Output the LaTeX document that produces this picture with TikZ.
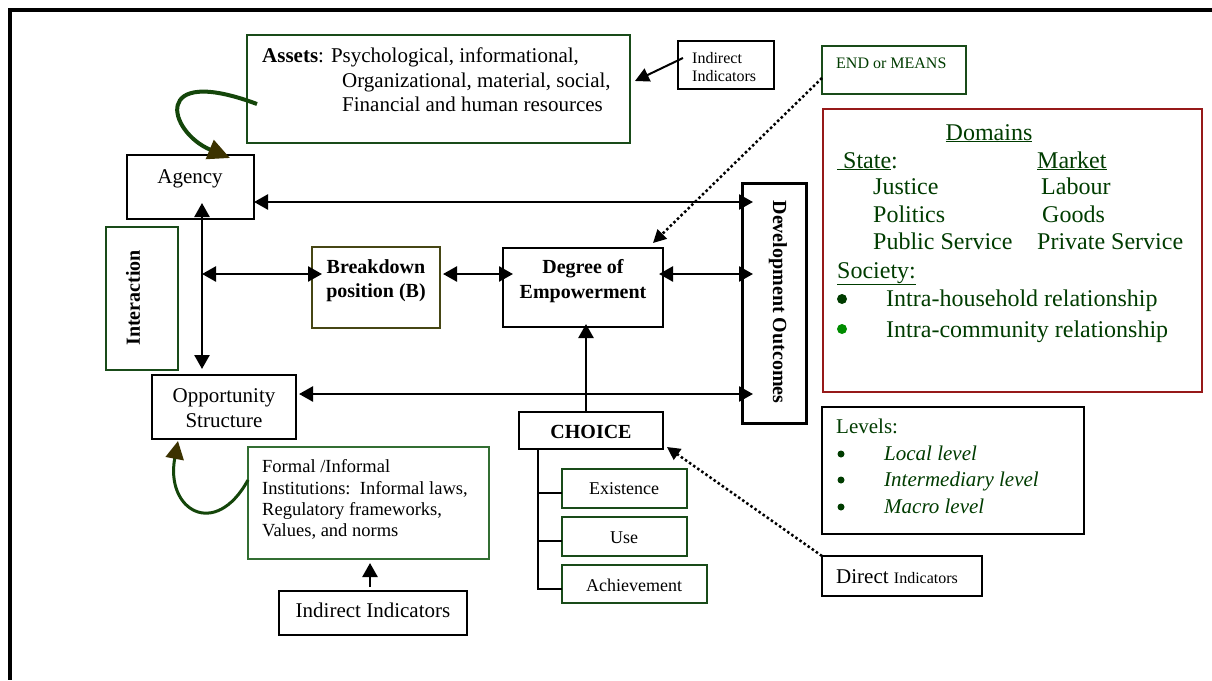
\documentclass[tikz,border=0pt]{standalone}
\usepackage{fontspec}
\setmainfont{Liberation Serif}
\usetikzlibrary{arrows.meta,calc}
\definecolor{bgreen}{RGB}{25,75,25}
\definecolor{mgreen}{RGB}{50,110,50}
\definecolor{olivebd}{RGB}{70,70,20}
\definecolor{dred}{RGB}{150,25,25}
\definecolor{tgreen}{RGB}{0,60,0}
\definecolor{bulgreen}{RGB}{0,140,0}
\definecolor{curvegreen}{RGB}{20,70,10}
\definecolor{tipolive}{RGB}{60,50,0}
\begin{document}
\begin{tikzpicture}[x=1pt,y=-1pt,
  bx/.style={draw=black, line width=2pt, inner sep=0pt, outer sep=0pt},
  t21/.style={font=\fontsize{21}{24}\selectfont, inner sep=0pt, anchor=base west},
  t24/.style={font=\fontsize{24}{27}\selectfont, inner sep=0pt, anchor=base west, text=tgreen},
  t16/.style={font=\fontsize{16}{18}\selectfont, inner sep=0pt, anchor=base west},
  t18/.style={font=\fontsize{18}{21}\selectfont, inner sep=0pt, anchor=base},
  tf/.style={font=\fontsize{18.5}{21}\selectfont, inner sep=0pt, anchor=base west},
  b20/.style={font=\bfseries\fontsize{20}{24}\selectfont, inner sep=0pt, anchor=base},
  lv/.style={font=\fontsize{21}{24}\selectfont, inner sep=0pt, anchor=base west, text=tgreen},
  bulbig/.style={circle, fill=tgreen, inner sep=0pt, minimum size=10pt},
  bulsmall/.style={circle, fill=tgreen, inner sep=0pt, minimum size=7pt},
  arr/.style={line width=2.5pt, -{Triangle[length=14pt,width=15pt]}},
  dbl/.style={line width=2.5pt, {Triangle[length=14pt,width=15pt]}-{Triangle[length=14pt,width=15pt]}},
  dot/.style={line width=2.5pt, dash pattern=on 2.5pt off 2.5pt, -{Triangle[length=13pt,width=13pt]}},
  tree/.style={line width=2pt}
]
\useasboundingbox (0,0) rectangle (1212,680);
\fill[white] (0,0) rectangle (1212,680);
% frame
\draw[line width=4pt] (1212,10) -- (10,10) -- (10,680);

% boxes
\node[bx, draw=bgreen, minimum width=383pt, minimum height=108pt] (assets) at (438.5,89) {};
\node[bx, minimum width=96pt, minimum height=48pt] (indtop) at (726,65) {};
\node[bx, draw=bgreen, minimum width=144pt, minimum height=48pt] (endm) at (894,70) {};
\node[bx, draw=dred, minimum width=379pt, minimum height=283pt] (domains) at (1012.5,250.5) {};
\node[bx, minimum width=127pt, minimum height=64pt] (agency) at (190.5,187) {};
\node[bx, draw=bgreen, minimum width=72pt, minimum height=143pt] (inter) at (142,298.5) {};
\node[bx, draw=olivebd, minimum width=128pt, minimum height=81pt] (breakdown) at (376,287.5) {};
\node[bx, minimum width=160pt, minimum height=79pt] (degree) at (583,287.5) {};
\node[bx, line width=3pt, minimum width=64pt, minimum height=240pt] (dev) at (774,303) {};
\node[bx, minimum width=144pt, minimum height=64pt] (opp) at (224,407) {};
\node[bx, minimum width=144pt, minimum height=37pt] (choice) at (591,430.5) {};
\node[bx, draw=bgreen, minimum width=125pt, minimum height=39pt] (exist) at (624.5,488.5) {};
\node[bx, draw=bgreen, minimum width=125pt, minimum height=39pt] (use) at (624.5,536.5) {};
\node[bx, draw=bgreen, minimum width=145pt, minimum height=38pt] (achieve) at (634.5,584) {};
\node[bx, draw=mgreen, minimum width=241pt, minimum height=112pt] (formal) at (368.5,503) {};
\node[bx, minimum width=188pt, minimum height=44pt] (indbot) at (373,613) {};
\node[bx, minimum width=262pt, minimum height=127pt] (levels) at (953,470.5) {};
\node[bx, minimum width=160pt, minimum height=40pt] (direct) at (902,576) {};

% texts
\node[t21] (assetsA) at (262,62) {\textbf{Assets}: Psychological, informational,};
\node[t21] (assetsB) at (342,87) {Organizational, material, social,};
\node[t21] (assetsC) at (342,111) {Financial and human resources};
\node[t16] (indtopA) at (692,63) {Indirect};
\node[t16] (indtopB) at (692,81) {Indicators};
\node[t16, text=tgreen] (endT) at (836,68) {END or MEANS};

\node[t24, anchor=base] (domT) at (989,140) {\underline{Domains}};
\node[t24] (stateT) at (837,168) {\underline{\hspace{6pt}State}:};
\node[t24] (marketT) at (1037,168) {\underline{Market}};
\node[t24] (justT) at (873,194) {Justice};
\node[t24] (labT) at (1041,194) {Labour};
\node[t24] (polT) at (873,222) {Politics};
\node[t24] (goodsT) at (1042,222) {Goods};
\node[t24] (pubT) at (873,249) {Public Service};
\node[t24] (privT) at (1037,249) {Private Service};
\node[t24] (socT) at (837,278) {\underline{Society:}};
\node[bulbig] (bulA) at (842,299) {};
\node[t24] (hhT) at (886,306) {Intra-household relationship};
\node[bulbig, fill=bulgreen] (bulB) at (842,329) {};
\node[t24] (commT) at (886,337) {Intra-community relationship};

\node[lv] (levT) at (836,433) {Levels:};
\node[bulsmall] (lb1) at (841,454) {};
\node[lv, font=\itshape\fontsize{21}{24}\selectfont] (lv1) at (884,460) {Local level};
\node[bulsmall] (lb2) at (841,480) {};
\node[lv, font=\itshape\fontsize{21}{24}\selectfont] (lv2) at (884,486) {Intermediary level};
\node[bulsmall] (lb3) at (841,507) {};
\node[lv, font=\itshape\fontsize{21}{24}\selectfont] (lv3) at (884,513) {Macro level};

\node[t21] (dirT) at (836,583) {Direct {\fontsize{16}{18}\selectfont Indicators}};

\node[t21, anchor=base] (agT) at (190,183) {Agency};
\node[t21, anchor=base] (oppA) at (224,402) {Opportunity};
\node[t21, anchor=base] (oppB) at (224,427) {Structure};
\node[b20, anchor=center, rotate=90] (interT) at (133,298) {Interaction};
\node[b20] (bdA) at (376,273) {Breakdown};
\node[b20] (bdB) at (376,297) {position (B)};
\node[b20] (degA) at (583,273) {Degree of};
\node[b20] (degB) at (583,298) {Empowerment};
\node[b20, anchor=center, rotate=-90] (devT) at (778,302) {Development Outcomes};
\node[b20] (choiceT) at (591,438) {CHOICE};
\node[t18] (existT) at (624,494) {Existence};
\node[t18] (useT) at (624,543) {Use};
\node[t18] (achT) at (634,591) {Achievement};
\node[tf] (fA) at (262,472) {Formal /Informal};
\node[tf] (fB) at (262,494) {Institutions:\ \ Informal laws,};
\node[tf] (fC) at (262,515) {Regulatory frameworks,};
\node[tf] (fD) at (262,536) {Values, and norms};
\node[t21, anchor=base] (ibT) at (373,617) {Indirect Indicators};

% connectors
\draw[line width=2pt, -{Triangle[length=14pt,width=14pt]}] ([xshift=5pt,yshift=7pt]indtop.west) -- ([xshift=5pt,yshift=8pt]assets.east);
\draw[line width=4pt, draw=curvegreen, -{Triangle[length=22pt,width=20pt,color=tipolive]}]
  ([xshift=10pt,yshift=-15pt]assets.west) .. controls (150,64) and (168,132) .. ([xshift=39.5pt,yshift=-3pt]agency.north);
\draw[line width=3pt, draw=curvegreen, -{Triangle[length=18pt,width=18pt,color=tipolive]}]
  ([yshift=23pt]formal.west) .. controls (215,540) and (165,510) .. ([xshift=-46pt,yshift=-2pt]opp.south);

\draw[dbl, shorten >=-11pt] ([yshift=-15pt]agency.east) -- ([yshift=-15pt]agency.east -| dev.west);
\draw[dbl, shorten <=-16pt, shorten >=6pt] ([xshift=11.5pt]agency.south) -- ([xshift=11.5pt]agency.south |- opp.north);
\coordinate (vj) at (202,274);
\draw[dbl, shorten >=-10pt] (vj) -- (vj -| breakdown.west);
\draw[dbl, shorten <=3pt, shorten >=-10pt] ([yshift=13.5pt]breakdown.east) -- ([yshift=13.5pt]breakdown.east -| degree.west);
\draw[dbl, shorten <=-4pt, shorten >=-11pt] ([yshift=13.5pt]degree.east) -- ([yshift=13.5pt]degree.east -| dev.west);
\draw[dbl, shorten <=3pt, shorten >=-11pt] ([yshift=13pt]opp.east) -- ([yshift=13pt]opp.east -| dev.west);
\draw[arr, shorten >=-3pt] ([xshift=-5pt]choice.north) -- ([xshift=-5pt]choice.north |- degree.south);

\draw[tree] ([xshift=-53pt]choice.south) |- ([yshift=-4.5pt]exist.west);
\draw[tree] ([xshift=-53pt]choice.south) |- ([yshift=-4.5pt]use.west);
\draw[tree] ([xshift=-53pt]choice.south) |- ([yshift=-5pt]achieve.west);

\draw[arr, shorten <=4pt, shorten >=4pt] ([xshift=-3pt]indbot.north) -- ([xshift=-3pt]indbot.north |- formal.south);

\draw[dot] ([yshift=-8pt]endm.west) -- ([xshift=-10pt,yshift=5pt]degree.north east);
\draw[dot] (direct.north west) -- ([xshift=4pt,yshift=2pt]choice.south east);
\end{tikzpicture}
\end{document}
